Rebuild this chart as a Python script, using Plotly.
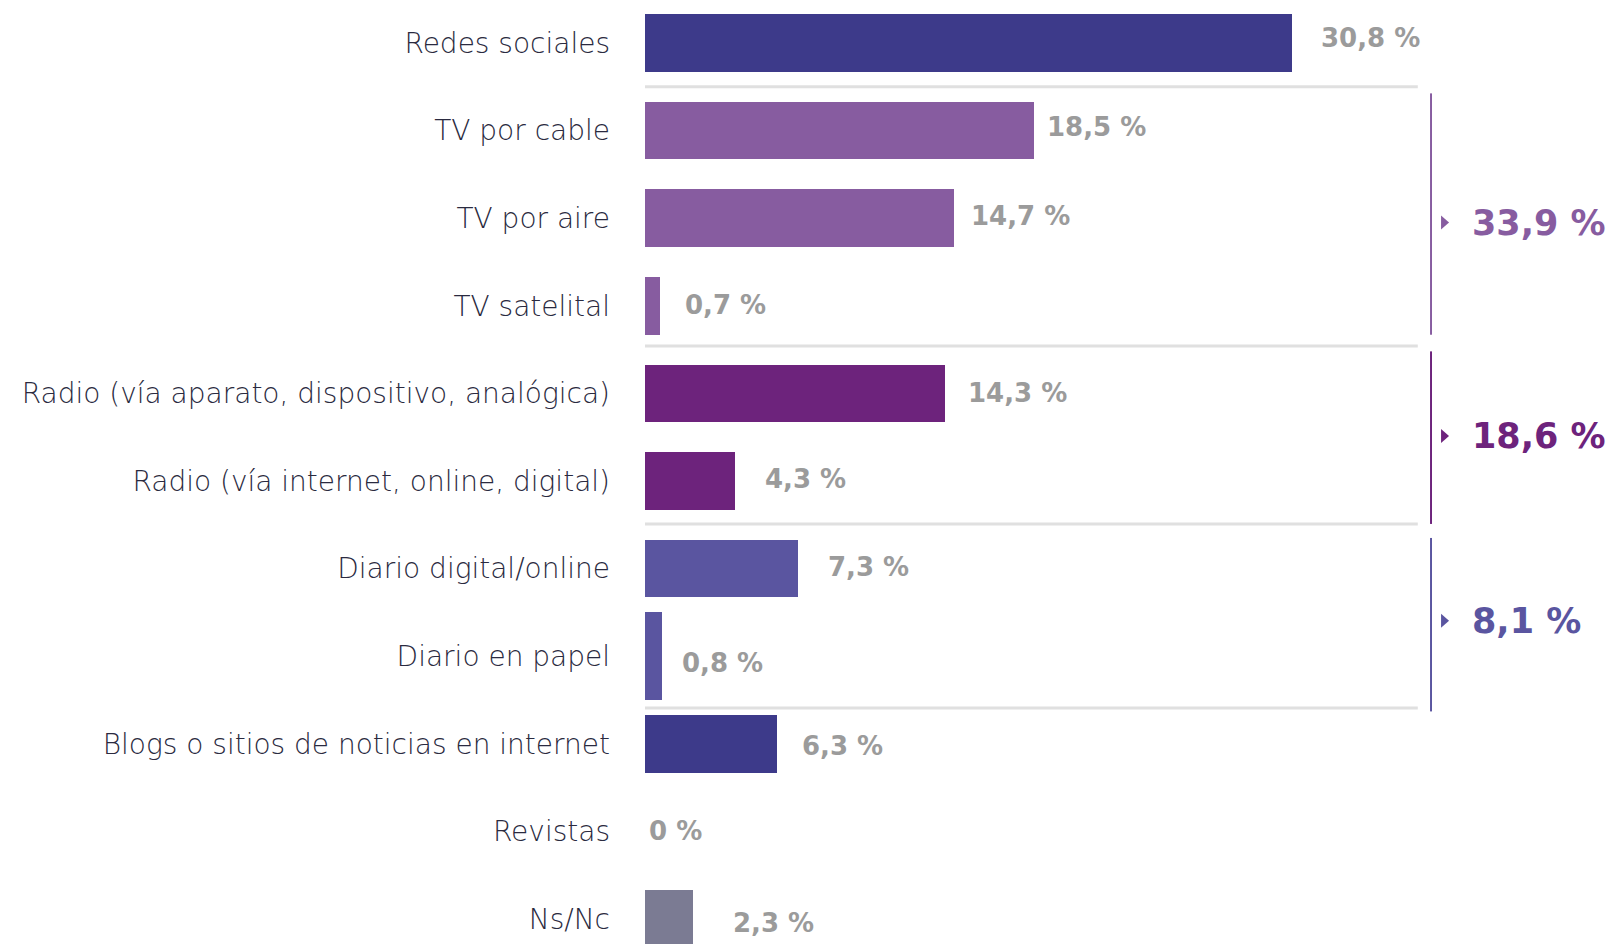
import plotly.graph_objects as go

# Media categories (top to bottom) and their share of respondents (%)
categories = [
    "Redes sociales",
    "TV por cable",
    "TV por aire",
    "TV satelital",
    "Radio (vía aparato, dispositivo, analógica)",
    "Radio (vía internet, online, digital)",
    "Diario digital/online",
    "Diario en papel",
    "Blogs o sitios de noticias en internet",
    "Revistas",
    "Ns/Nc",
]
values = [30.8, 18.5, 14.7, 0.7, 14.3, 4.3, 7.3, 0.8, 6.3, 0.0, 2.3]

# Grouped media (indices into categories) for the bracket totals
groups = [
    [1, 2, 3],   # TV
    [4, 5],      # Radio
    [6, 7],      # Diario
]

# ---- styling ----
C_INDIGO = "#3d3a8a"
C_TV = "#875ca0"
C_RADIO = "#6d237c"
C_DIARIO = "#5a55a0"
C_NSNC = "#7b7b93"
bar_colors = [C_INDIGO, C_TV, C_TV, C_TV, C_RADIO, C_RADIO,
              C_DIARIO, C_DIARIO, C_INDIGO, C_INDIGO, C_NSNC]
bar_widths = [0.656] * 11
bar_widths[7] = 1.0
group_colors = [C_TV, C_RADIO, C_DIARIO]

# label offsets from bar end (px) and vertical nudges (px)
label_gap = [27, 11, 15, 23, 21, 28, 28, 18, 23, 2, 38]
label_dy = [5, 4, 2, 1, 0, 2, 2, -7, -2, 0, -4]

CAT_FONT = "DejaVu Sans"
NUM_FONT = "DejaVu Sans"
VALUE_GRAY = "#9b9b9b"


def fmt(v):
    if v == 0:
        return "0 %"
    return f"{v:.1f}".replace(".", ",") + " %"


fig = go.Figure()
fig.add_trace(go.Bar(
    x=values,
    y=categories,
    orientation="h",
    marker=dict(color=bar_colors, line=dict(width=0)),
    width=bar_widths,
    hoverinfo="skip",
))

# value labels
for i, (cat, v) in enumerate(zip(categories, values)):
    fig.add_annotation(
        x=v, y=cat, xref="x", yref="y",
        text=fmt(v), showarrow=False,
        xanchor="left", yanchor="middle",
        xshift=label_gap[i], yshift=label_dy[i],
        font=dict(family=NUM_FONT, size=26, color=VALUE_GRAY, weight=700),
    )

# thin grey separators between groups
sep_y = [0.5, 3.46, 5.49, 7.59]
for yy in sep_y:
    fig.add_shape(type="line", xref="x", yref="y",
                  x0=0, x1=36.8, y0=yy, y1=yy,
                  line=dict(color="#e0e0e0", width=3))

# brackets with group totals
bracket_x = 37.43
bracket_spans = [(0.575, 3.33), (3.52, 5.49), (5.65, 7.63)]
total_y = [2.05, 4.486, 6.596]
for g, idx in enumerate(groups):
    col = group_colors[g]
    y0, y1 = bracket_spans[g]
    fig.add_shape(type="line", xref="x", yref="y",
                  x0=bracket_x, x1=bracket_x, y0=y0, y1=y1,
                  line=dict(color=col, width=2))
    fig.add_shape(type="path", xref="x", yref="y",
                  xsizemode="pixel", ysizemode="pixel",
                  xanchor=38.05, yanchor=total_y[g],
                  path="M -3,7 L 5,0 L -3,-7 Z",
                  fillcolor=col, line=dict(width=0))
    total = round(sum(values[k] for k in idx), 1)
    fig.add_annotation(
        x=39.29, y=total_y[g], xref="x", yref="y",
        text=fmt(total), showarrow=False,
        xanchor="left", yanchor="middle",
        font=dict(family=NUM_FONT, size=35, color=col, weight=700),
    )

fig.update_layout(
    width=1609, height=944,
    margin=dict(l=645, r=19, t=0, b=0),
    paper_bgcolor="white", plot_bgcolor="white",
    showlegend=False,
    bargap=0,
    xaxis=dict(range=[0, 45], visible=False, fixedrange=True),
    yaxis=dict(
        type="category",
        categoryorder="array", categoryarray=categories,
        range=[10.285, -0.491],
        showgrid=False, zeroline=False, showline=False,
        ticks="", ticklabelstandoff=34,
        tickfont=dict(family=CAT_FONT, size=28, color="#2a2a40", weight=200),
        fixedrange=True,
    ),
)

fig.write_html("out.html")
